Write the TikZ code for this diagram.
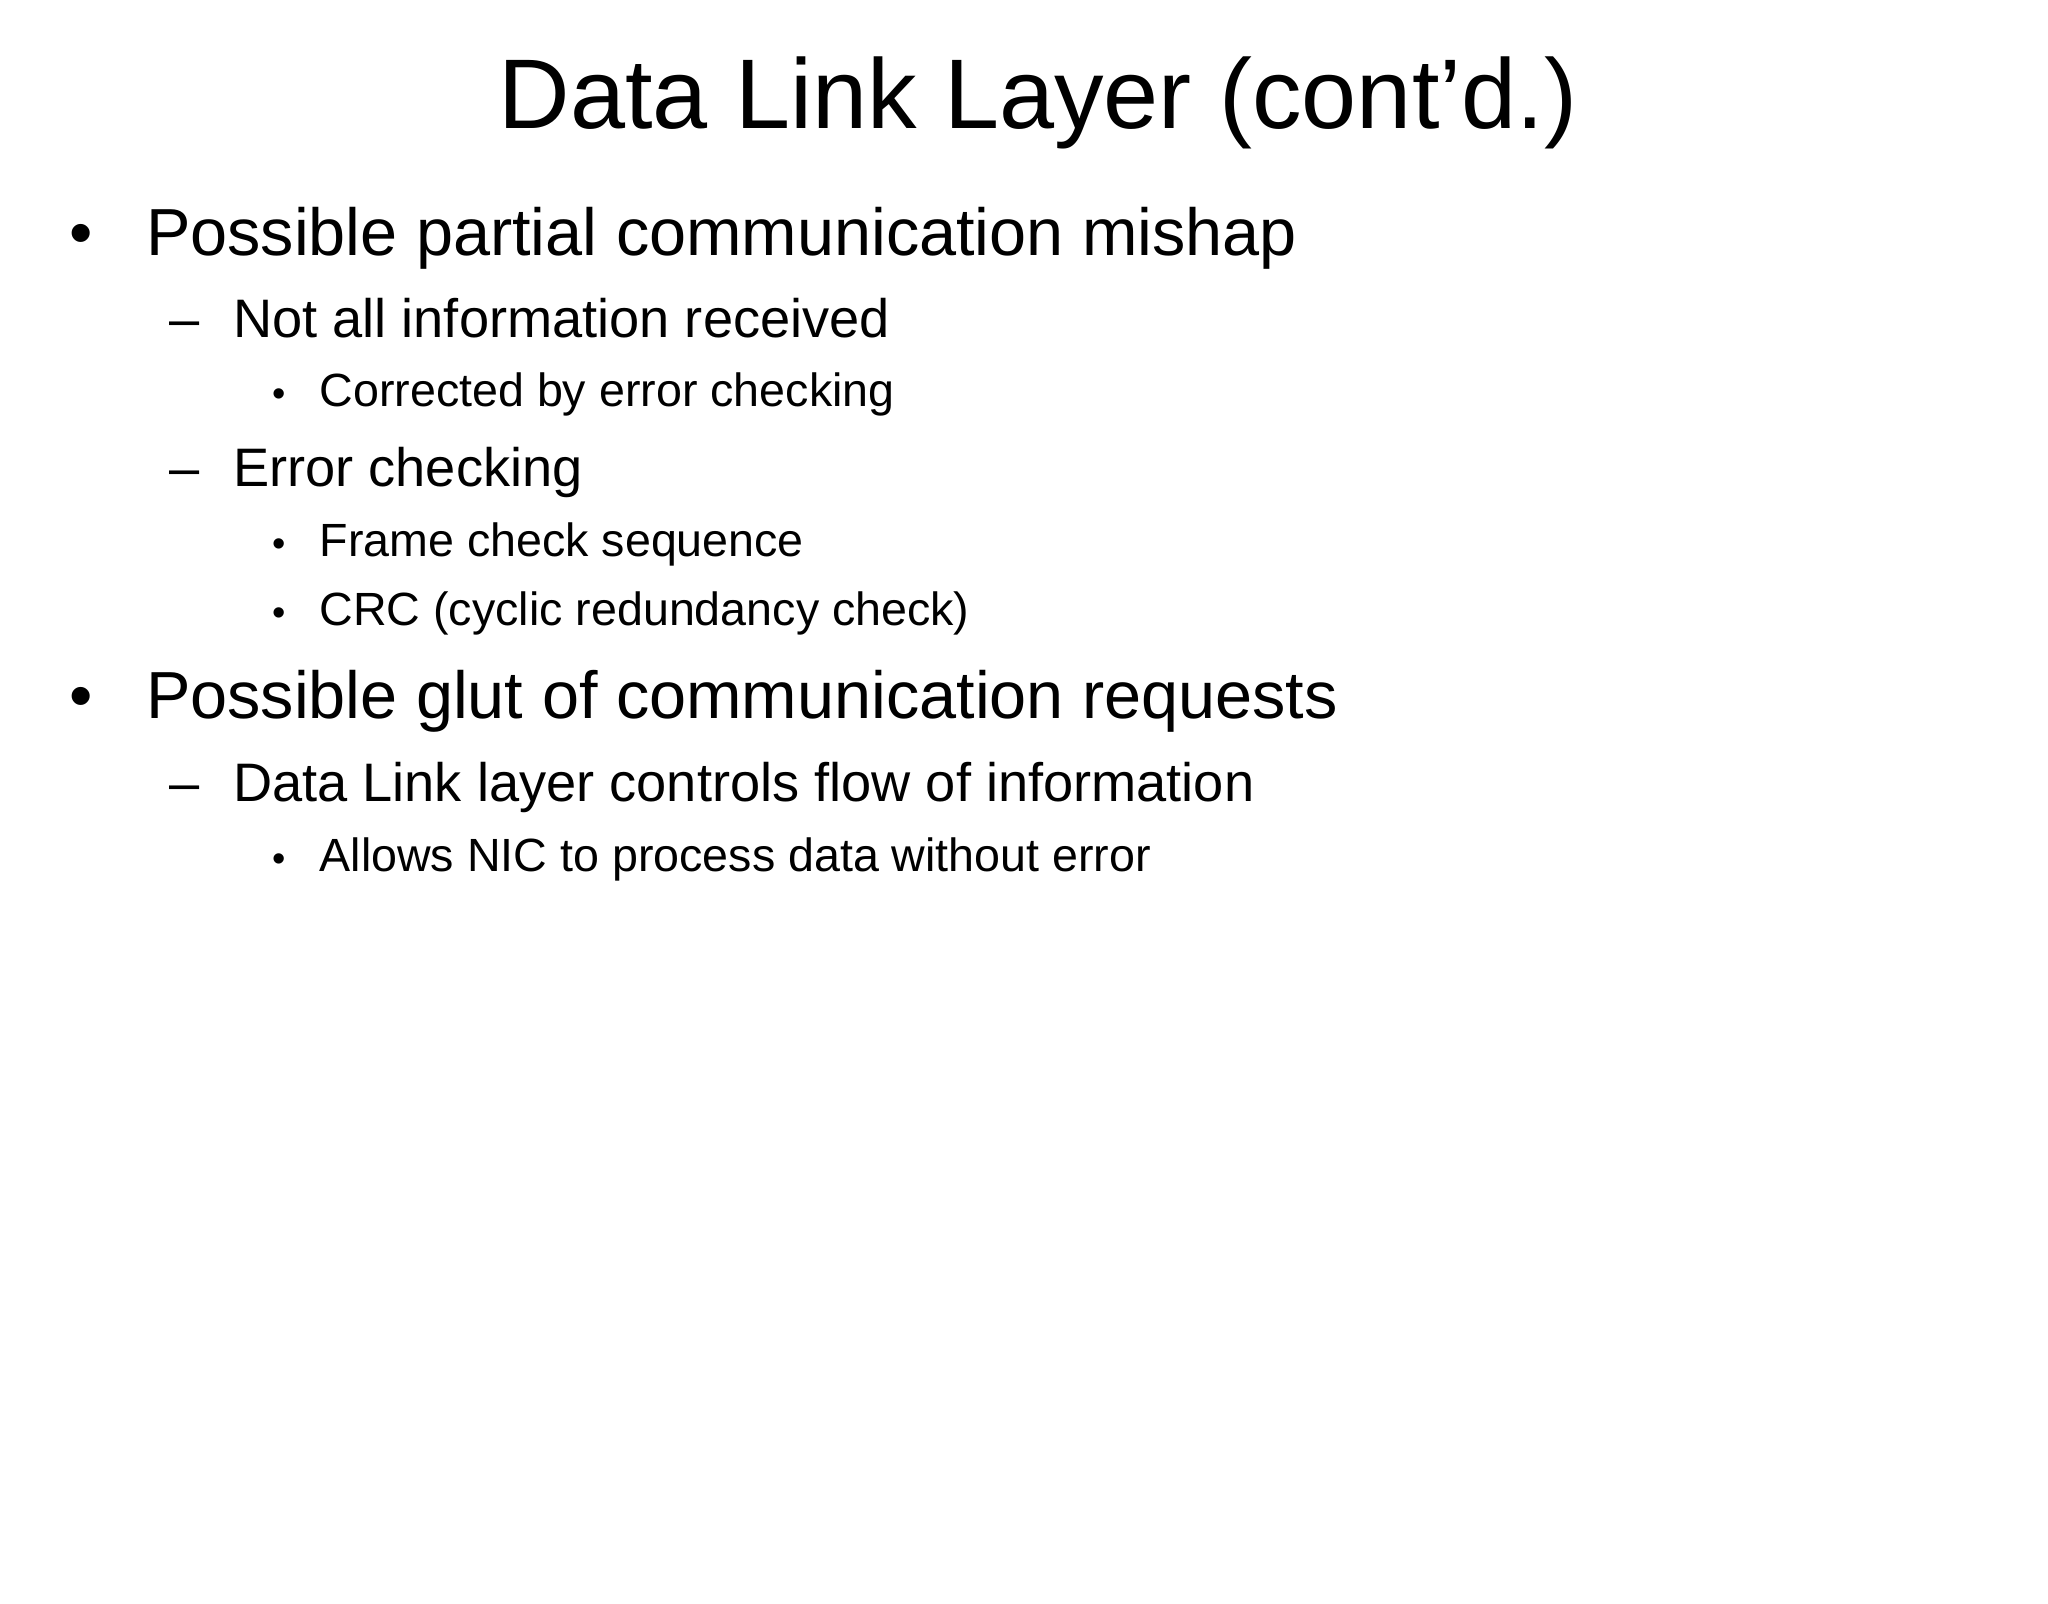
\documentclass[tikz,border=0pt]{standalone}
\usepackage{fontspec}
\setmainfont{Liberation Sans}
\tikzset{
 t/.style={anchor=base west,inner sep=0pt},
 l1/.style={t,font=\fontsize{33.3}{38}\selectfont},
 l2/.style={t,font=\fontsize{27.1}{32}\selectfont},
 l3/.style={t,font=\fontsize{23.3}{27}\selectfont},
 l3d/.style={t,font=\fontsize{19}{22}\selectfont},
}
\begin{document}
\begin{tikzpicture}[x=1pt,y=1pt]
\useasboundingbox[fill=white] (0,0) rectangle (1024,-801.5);
\node[anchor=base,inner sep=0pt,font=\fontsize{49.5}{58}\selectfont] (title) at (519,-64) {Data Link Layer (cont’d.)};
\node[l1] (b1d) at (34.5,-127.5) {•};
\node[l1] (b1) at (72.8,-127.5) {Possible partial communication mishap};
\node[l2] (s1d) at (84.5,-168.5) {–};
\node[l2] (s1) at (116.4,-168.5) {Not all information received};
\node[l3d] (u1d) at (136,-203.4) {•};
\node[l3] (u1) at (159.6,-203.4) {Corrected by error checking};
\node[l2] (s2d) at (84.5,-243.2) {–};
\node[l2] (s2) at (116.4,-243.2) {Error checking};
\node[l3d] (u2d) at (136,-278.3) {•};
\node[l3] (u2) at (159.6,-278.3) {Frame check sequence};
\node[l3d] (u3d) at (136,-312.7) {•};
\node[l3] (u3) at (159.6,-312.7) {CRC (cyclic redundancy check)};
\node[l1] (b2d) at (34.5,-359) {•};
\node[l1] (b2) at (72.8,-359) {Possible glut of communication requests};
\node[l2] (s3d) at (84.5,-400.7) {–};
\node[l2] (s3) at (116.4,-400.7) {Data Link layer controls flow of information};
\node[l3d] (u4d) at (136,-435.7) {•};
\node[l3] (u4) at (159.6,-435.7) {Allows NIC to process data without error};
\end{tikzpicture}
\end{document}
